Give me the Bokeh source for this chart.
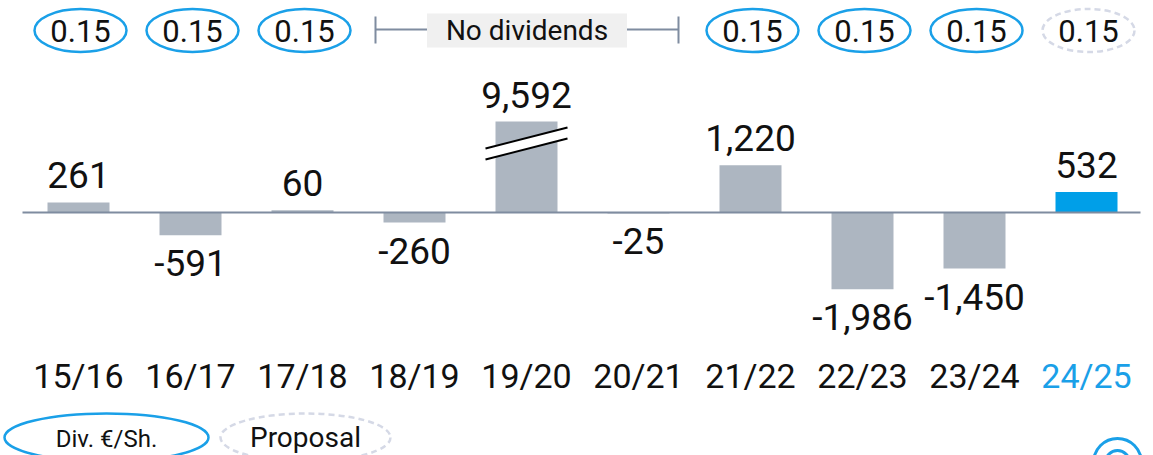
import numpy as np
from bokeh.plotting import figure
from bokeh.models import Range1d, ColumnDataSource
from bokeh.core.properties import value
from bokeh.embed import file_html
from bokeh.resources import INLINE

# ---------------- data ----------------
categories = ["15/16", "16/17", "17/18", "18/19", "19/20",
              "20/21", "21/22", "22/23", "23/24", "24/25"]
results = [261, -591, 60, -260, 9592, -25, 1220, -1986, -1450, 532]
dividends = [0.15, 0.15, 0.15, None, None, None, 0.15, 0.15, 0.15, 0.15]
is_proposal = [False, False, False, False, False, False, False, False, False, True]
break_index = 4          # bar drawn with an axis break
break_display = 2350     # height at which the broken bar is drawn
no_div_label = "No dividends"
legend_labels = ["Div. €/Sh.", "Proposal"]

# ---------------- layout helpers ----------------
W, H = 1153, 455
PXU = 25.84      # value units per pixel
BASE_PX = 212    # pixel row of the zero line
X0_PX, STEP_PX = 78, 112

def ys(py):
    return (BASE_PX - py) * PXU

def xs(px):
    return (px - X0_PX) / STEP_PX

FONT = value("Roboto")
GREY_BAR = "#adb6c1"
BLUE_BAR = "#009fe8"
BLUE = "#1aa0e8"
LINE_GREY = "#7f8ca0"
DASH_GREY = "#d5d9e6"
TXT = "#111111"

p = figure(width=W, height=H, x_range=Range1d(xs(0), xs(W)),
           y_range=Range1d(ys(H), ys(0)), output_backend="svg",
           toolbar_location=None, x_axis_location=None, y_axis_location=None,
           min_border=0, outline_line_color=None, background_fill_color="white")
p.grid.visible = False

n = len(categories)
idx = list(range(n))
display = [break_display if i == break_index else v for i, v in enumerate(results)]
colors = [BLUE_BAR if i == n - 1 else GREY_BAR for i in idx]

# bars
p.vbar(x=idx, width=62 / STEP_PX, bottom=0, top=display,
       fill_color=colors, line_color=None)

# zero line
p.segment(x0=[xs(22)], x1=[xs(1140)], y0=[0], y1=[0], line_color=LINE_GREY, line_width=2)

# axis break on the capped bar
bx = break_index
dx = 41 / STEP_PX
p.patch(x=[bx - dx, bx + dx, bx + dx, bx - dx],
        y=[ys(148), ys(127), ys(138), ys(159)], fill_color="white", line_color=None)
p.multi_line(xs=[[bx - dx, bx + dx], [bx - dx, bx + dx]],
             ys=[[ys(148), ys(127)], [ys(159), ys(138)]], line_color="black", line_width=2)

# value labels
lab_y = [d + 27 * PXU if v >= 0 else d - 28 * PXU for v, d in zip(results, display)]
lab_t = [f"{v:,}" for v in results]
p.text(x=idx, y=lab_y, text=lab_t, text_font=FONT, text_font_size="37px",
       text_align="center", text_baseline="alphabetic", text_color=TXT)

# category labels
cat_colors = [BLUE if i == n - 1 else TXT for i in idx]
p.text(x=idx, y=[ys(375)] * n, text=categories, text_font=FONT, text_font_size="34px",
       text_align="center", text_baseline="alphabetic", text_color=cat_colors)

# dividend ovals
div_i = [i for i in idx if dividends[i] is not None]
for i in div_i:
    dash = "6 4" if is_proposal[i] else "solid"
    col = DASH_GREY if is_proposal[i] else BLUE
    p.ellipse(x=[i + 2 / STEP_PX], y=[ys(30)], width=92, height=43,
              width_units="screen", height_units="screen",
              fill_color=None, line_color=col, line_width=2.5, line_dash=dash)
p.text(x=[i + 2 / STEP_PX for i in div_i], y=[ys(30)] * len(div_i),
       text=[f"{dividends[i]:.2f}" for i in div_i], text_font=FONT, text_font_size="31px",
       text_align="center", text_baseline="middle", text_color=TXT)

# "No dividends" bracket
nd = [i for i in idx if dividends[i] is None]
left = nd[0] - 39 / STEP_PX
right = nd[-1] + 40 / STEP_PX
mid = (left + right) / 2
box_half = 100 / STEP_PX
p.rect(x=[mid], y=[ys(30)], width=200, height=34, width_units="screen",
       height_units="screen", fill_color="#f0f0f0", line_color=None)
p.segment(x0=[left, mid + box_half, left, right], x1=[mid - box_half, right, left, right],
          y0=[ys(29), ys(29), ys(16), ys(16)], y1=[ys(29), ys(29), ys(43), ys(43)],
          line_color=LINE_GREY, line_width=2)
p.text(x=[mid], y=[ys(30)], text=[no_div_label], text_font=FONT, text_font_size="28px",
       text_align="center", text_baseline="middle", text_color=TXT)

# legend
p.ellipse(x=[xs(106)], y=[ys(437)], width=204, height=48, width_units="screen",
          height_units="screen", fill_color=None, line_color=BLUE, line_width=2.5)
p.ellipse(x=[xs(305)], y=[ys(437)], width=170, height=48, width_units="screen",
          height_units="screen", fill_color=None, line_color=DASH_GREY, line_width=2.5,
          line_dash="6 4")
p.text(x=[xs(106)], y=[ys(438)], text=[legend_labels[0]], text_font=FONT,
       text_font_size="24px", text_align="center", text_baseline="middle", text_color=TXT)
p.text(x=[xs(305)], y=[ys(437)], text=[legend_labels[1]], text_font=FONT,
       text_font_size="28px", text_align="center", text_baseline="middle", text_color=TXT)

# partial icon bottom right
p.ellipse(x=[xs(1117), xs(1117)], y=[ys(462), ys(462)], width=[48, 24], height=[48, 24],
          width_units="screen", height_units="screen", fill_color=None,
          line_color=BLUE, line_width=3)

open("out.html", "w").write(file_html(p, INLINE))
